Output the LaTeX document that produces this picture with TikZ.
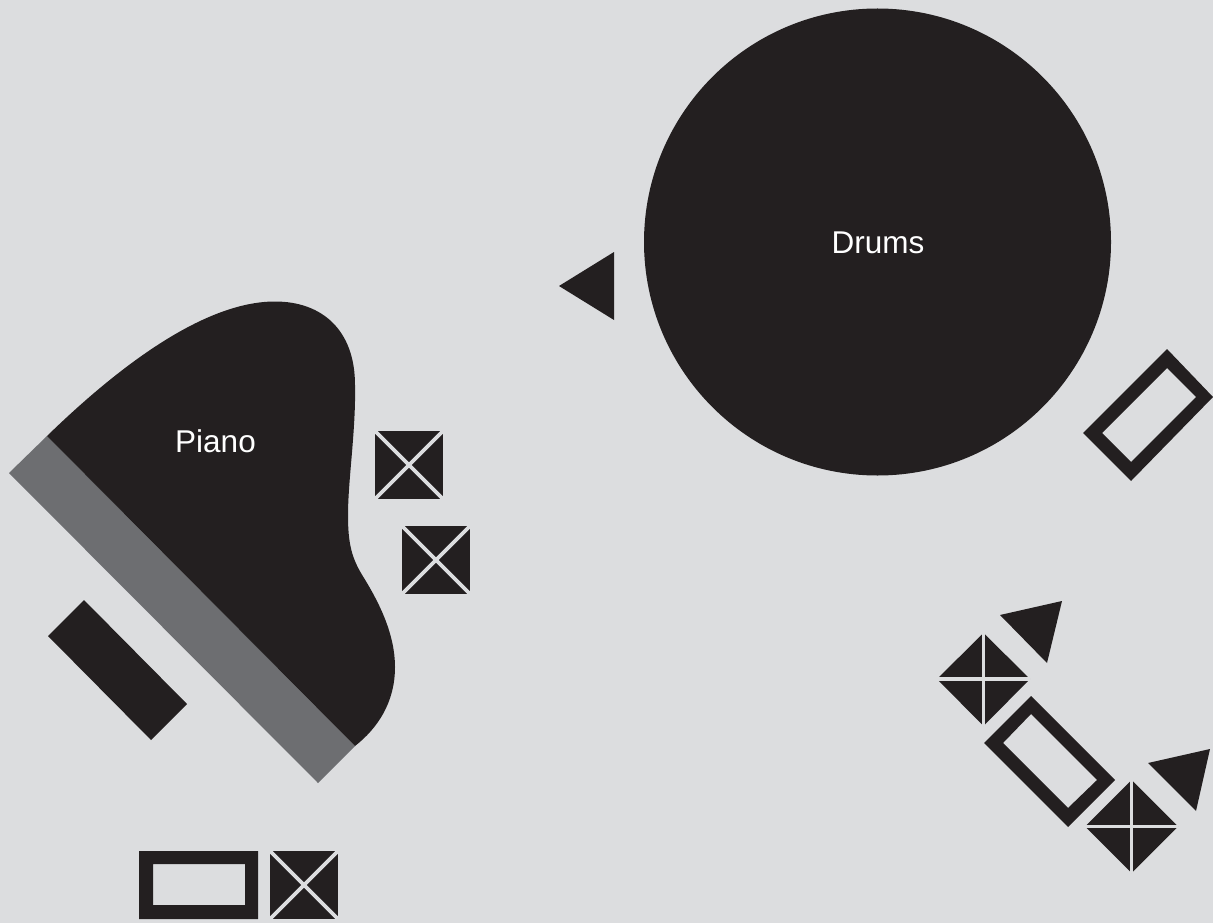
\documentclass[tikz,border=0pt]{standalone}
\usepackage{fontspec}
\setmainfont{Liberation Sans}
\definecolor{bgc}{HTML}{DCDDDF}
\definecolor{ink}{HTML}{231F20}
\definecolor{band}{HTML}{6D6E71}
\tikzset{
  solid shape/.style={fill=ink,draw=none},
  frame shape/.style={fill=ink,draw=none,even odd rule},
  cut line/.style={draw=bgc,line width=3.6pt},
  label text/.style={text=white,font=\fontsize{31.5}{32}\selectfont,inner sep=0pt,outer sep=0pt},
}
\newcommand{\xsquare}[4]{%
  \fill[ink] (#1,#2) rectangle (#3,#4);
  \draw[cut line] (#1,#2) -- (#3,#4) (#1,#4) -- (#3,#2);}
\newcommand{\plusdiamond}[6]{% left right top bottom cx cy
  \fill[ink] (#1,#6) -- (#5,#3) -- (#2,#6) -- (#5,#4) -- cycle;
  \draw[cut line] (#1,#6) -- (#2,#6) (#5,#3) -- (#5,#4);}
\begin{document}
\begin{tikzpicture}[x=1pt,y=-1pt]
\useasboundingbox (0,0) rectangle (1213,923);
\fill[bgc] (0,0) rectangle (1213,923);
% drums
\node[circle,solid shape,minimum size=467pt,inner sep=0pt,outer sep=0pt] (drums) at (877.5,242) {};
\node[label text,anchor=base] (drumslabel) at (878,253) {Drums};
\fill[ink] (559,286) -- (614,252) -- (614,320) -- cycle;
% piano
\fill[band] (47,436) -- (9,473) -- (318,783) -- (355,746) -- cycle;
\path[solid shape] (47,436) .. controls (120,365) and (205,301.5) .. (275,301.5)
  .. controls (322,301.5) and (355,330) .. (355,385)
  .. controls (356,430) and (348,480) .. (348,515)
  .. controls (348,545) and (352,559) .. (364,578)
  .. controls (380,604) and (395,635) .. (395,667)
  .. controls (395,702) and (378,728) .. (355,746) -- cycle;
\node[label text,anchor=base] (piano) at (215.5,452) {Piano};
\fill[ink] (84,600) -- (48,636) -- (151,740) -- (187,704) -- cycle;
\xsquare{375}{431}{443}{499}
\xsquare{402}{526}{470}{594}
% bottom left
\path[frame shape] (139,851) rectangle (258,919) (153,864) rectangle (245,905);
\xsquare{270}{851}{338}{919}
% right frames
\path[frame shape] (1167,349) -- (1213,397) -- (1131,481) -- (1083,433) -- cycle
  (1167,368) -- (1196,397) -- (1131,462) -- (1102,433) -- cycle;
\path[frame shape] (1031,696) -- (1115,780) -- (1068,827) -- (984,743) -- cycle
  (1031,714) -- (1097,780) -- (1068,808) -- (1003,743) -- cycle;
\plusdiamond{937}{1030}{633}{726}{983.5}{679}
\plusdiamond{1085}{1178}{780}{873}{1131.5}{826.5}
\fill[ink] (1000,615) -- (1062,601) -- (1047,663) -- cycle;
\fill[ink] (1148,763) -- (1210,749) -- (1196,811) -- cycle;
\end{tikzpicture}
\end{document}
